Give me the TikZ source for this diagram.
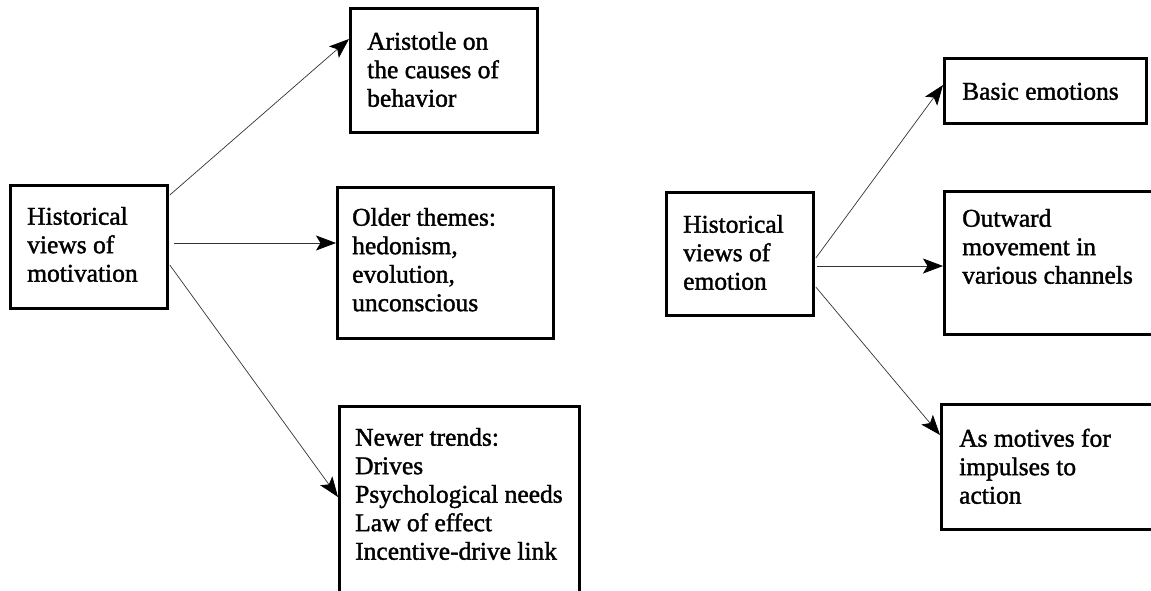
\documentclass[tikz,border=0pt]{standalone}
\usepackage{fontspec}
\setmainfont{Liberation Serif}
\newfontfamily\scanfont{Liberation Serif}[FakeBold=1.5]
\usetikzlibrary{arrows.meta}
\begin{document}
\begin{tikzpicture}[x=1pt,y=-1pt,
  box/.style={draw=black, line width=2.8pt, inner sep=0pt, anchor=north west},
  txt/.style={inner sep=0pt, anchor=north west, align=left, font=\scanfont\fontsize{25.5}{28.5}\selectfont},
  arr/.style={draw=black!80, line width=0.7pt, -{Stealth[length=20pt,width=15pt,inset=4.5pt,color=black]}}]
\useasboundingbox (0,0) rectangle (1151,590);
\clip (0,0) rectangle (1151,590);
% boxes
\node[box, minimum width=157pt, minimum height=123pt] (A) at (9,184) {};
\node[box, minimum width=187pt, minimum height=124pt] (B) at (349,7) {};
\node[box, minimum width=216pt, minimum height=151pt] (C) at (336,186) {};
\node[box, minimum width=240pt, minimum height=215pt] (D) at (338,405) {};
\node[box, minimum width=147pt, minimum height=123pt] (E) at (665,191) {};
\node[box, minimum width=202pt, minimum height=65pt] (F) at (943,57) {};
\node[box, minimum width=227pt, minimum height=143pt] (G) at (943,190) {};
\node[box, minimum width=230pt, minimum height=125pt] (H) at (940,403) {};
% texts
\node[txt] (At) at (27,204.5) {\strut Historical\\views of\\motivation};
\node[txt] (Bt) at (367,29.5) {\strut Aristotle on\\the causes of\\behavior};
\node[txt] (Ct) at (352,205.5) {\strut Older themes:\\hedonism,\\evolution,\\unconscious};
\node[txt] (Dt) at (355,425.5) {\strut Newer trends:\\Drives\\Psychological needs\\Law of effect\\Incentive-drive link};
\node[txt] (Et) at (683,212.5) {\strut Historical\\views of\\emotion};
\node[txt] (Ft) at (962,79.5) {\strut Basic emotions};
\node[txt] (Gt) at (962,206.5) {\strut Outward\\movement in\\various channels};
\node[txt] (Ht) at (959,426.5) {\strut As motives for\\impulses to\\action};
% connectors
\draw[arr] ([xshift=1pt,yshift=-11pt]A.north east) -- ([yshift=-32pt]B.north west);
\draw[arr] ([xshift=5pt,yshift=-59pt]A.north east) -- ([yshift=-57pt]C.north west);
\draw[arr] ([xshift=1pt,yshift=-81pt]A.north east) -- ([yshift=-92pt]D.north west);
\draw[arr] ([xshift=1pt,yshift=-67pt]E.north east) -- ([yshift=-28pt]F.north west);
\draw[arr] ([xshift=2pt,yshift=-75pt]E.north east) -- ([yshift=-76pt]G.north west);
\draw[arr] ([xshift=1pt,yshift=-96pt]E.north east) -- ([yshift=-32pt]H.north west);
\end{tikzpicture}
\end{document}
